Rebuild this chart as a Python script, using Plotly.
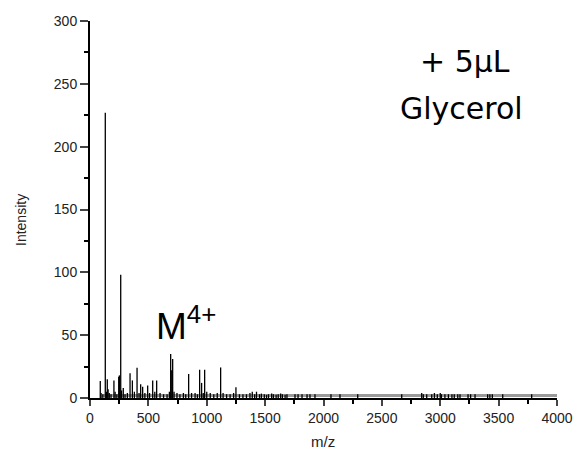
import plotly.graph_objects as go

# Peak list (m/z, intensity)
peak_mz = [88, 95, 110, 131, 140, 148, 155, 165, 180, 205, 215, 230, 246, 252, 263, 270,
           285, 300, 320, 343, 363, 380, 403, 420, 434, 451, 470, 494, 510, 537, 555, 571,
           600, 630, 660, 680, 691, 700, 708, 720, 745, 770, 800, 820, 845, 870, 900, 920,
           939, 956, 970, 982, 1000, 1030, 1060, 1090, 1119, 1140, 1170, 1200, 1230, 1250,
           1280, 1310, 1340, 1370, 1390, 1410, 1426, 1452, 1468, 1493, 1512, 1529, 1556,
           1571, 1594, 1612, 1633, 1648, 1671, 1687, 1756, 1782, 1816, 1859, 1884, 1927,
           2064, 2141, 2293, 2670, 2841, 2855, 2884, 2927, 2950, 2975, 3000, 3010, 3040,
           3070, 3100, 3120, 3150, 3169, 3238, 3260, 3298, 3406, 3425, 3446, 3535, 3783]
peak_int = [13.5, 4, 3, 227, 5, 15, 7, 4, 3, 14, 5, 3, 17, 18, 98, 6,
            8, 3, 4, 19.6, 14, 5, 24, 4, 11, 9, 4, 10, 4, 14, 5, 14,
            4, 3, 3, 5, 35, 22, 31, 5, 4, 3, 4, 3, 19, 4, 4, 3,
            22.5, 12, 4, 22.5, 5, 4, 3, 4, 24.3, 4, 3, 3, 4, 8.5,
            3, 3, 3, 4, 5, 3, 5, 3, 3.5, 3, 2.5, 3, 3.5,
            3, 2.5, 3, 3.5, 3, 2.5, 3, 3, 3, 3, 3, 3, 3,
            3, 3, 3, 3, 4, 3, 3, 3, 4, 3, 4, 3, 3,
            3, 3, 3, 3, 3, 3, 3, 3, 3, 3, 3, 3, 3]

# Dense low-level baseline noise (drawn as a grey band)
base_mz = [100, 4000]
base_int = [2.0, 2.0]

x_ticks = [0, 500, 1000, 1500, 2000, 2500, 3000, 3500, 4000]
y_ticks = [0, 50, 100, 150, 200, 250, 300]

stick_x, stick_y = [], []
for m, i in zip(peak_mz, peak_int):
    stick_x += [m, m, None]
    stick_y += [0, i, None]

fig = go.Figure()
fig.add_trace(go.Scatter(x=base_mz, y=base_int, mode="lines",
                         line=dict(color="#9a9a9a", width=3), hoverinfo="skip"))
fig.add_trace(go.Scatter(x=stick_x, y=stick_y, mode="lines",
                         line=dict(color="black", width=1.3), hoverinfo="skip"))

axis_font = dict(family="Liberation Sans, Arial", size=14, color="#222")
fig.update_xaxes(range=[0, 4000], tickvals=x_ticks, ticks="outside", ticklen=6, tickwidth=2,
                 showline=True, linewidth=2, linecolor="black", showgrid=False, zeroline=False,
                 tickfont=axis_font, automargin=False,
                 minor=dict(dtick=250, ticks="outside", ticklen=4, tickwidth=2, tickcolor="black"))
fig.update_yaxes(range=[0, 300], tickvals=y_ticks, ticks="outside", ticklen=8, tickwidth=2,
                 showline=True, linewidth=2, linecolor="black", showgrid=False, zeroline=False,
                 tickfont=axis_font, automargin=False,
                 minor=dict(dtick=25, ticks="outside", ticklen=4, tickwidth=2, tickcolor="black"))

W, H = 576, 454
L, R, T, B = 90, 19, 21, 56
pw, ph = W - L - R, H - T - B

def px2paper(px, py):
    return (px - L) / pw, (H - B - py) / ph

# axis titles
ix, iy = px2paper(21, 220)
fig.add_annotation(x=ix, y=iy, xref="paper", yref="paper", text="Intensity", showarrow=False,
                   xanchor="center", yanchor="middle", textangle=-90,
                   font=dict(family="Liberation Sans, Arial", size=14, color="#222"))
mx, my = px2paper(323, 442)
fig.add_annotation(x=mx, y=my, xref="paper", yref="paper", text="m/z", showarrow=False,
                   xanchor="center", yanchor="middle",
                   font=dict(family="Liberation Sans, Arial", size=15, color="#222"))

fig.add_annotation(x=818, y=59.5, xref="x", yref="y", text="M<sup>4+</sup>", showarrow=False,
                   xanchor="center", yanchor="middle",
                   font=dict(family="Liberation Sans, Arial", size=37, color="black"))
fig.add_annotation(x=3212, y=268, xref="x", yref="y", text="+ 5µL", showarrow=False,
                   xanchor="center", yanchor="middle",
                   font=dict(family="DejaVu Sans", size=30, color="black"))
fig.add_annotation(x=3186, y=230, xref="x", yref="y", text="Glycerol", showarrow=False,
                   xanchor="center", yanchor="middle",
                   font=dict(family="DejaVu Sans", size=30, color="black"))

fig.update_layout(width=W, height=H, margin=dict(l=L, r=R, t=T, b=B),
                  plot_bgcolor="white", paper_bgcolor="white", showlegend=False)

fig.write_html("out.html", config={"displayModeBar": False},
               post_script="document.body.style.margin='0';document.body.style.overflow='hidden';")
